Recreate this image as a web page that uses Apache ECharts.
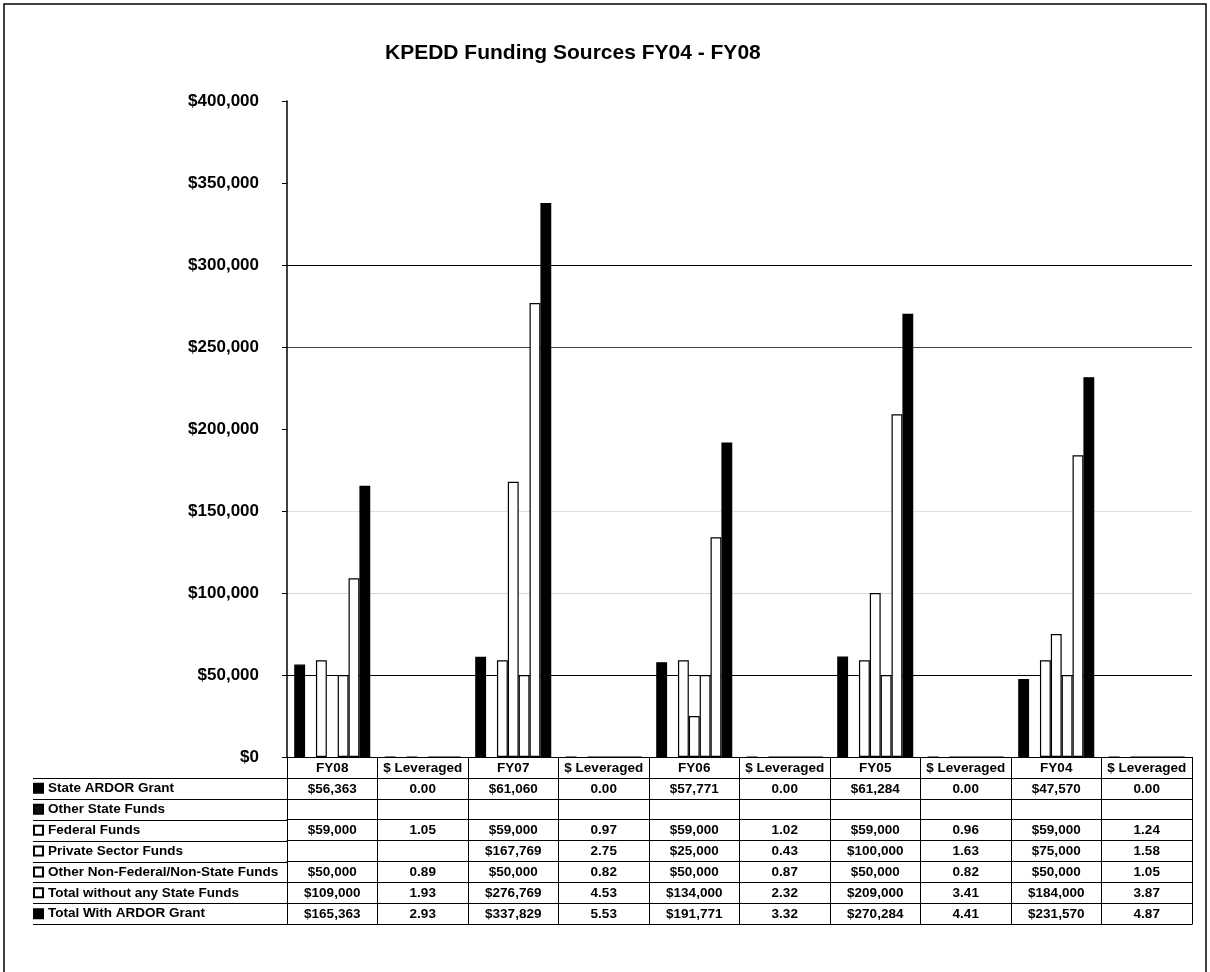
<!DOCTYPE html>
<html>
<head>
<meta charset="utf-8">
<script src="https://cdn.jsdelivr.net/npm/echarts@6/dist/echarts.min.js"></script>
<style>
  html, body { margin: 0; padding: 0; background: #fff; }
  #chart { width: 1210px; height: 972px; }
</style>
</head>
<body>
<div id="chart"></div>
<script>
// ---------------- DATA ----------------
const fiscalYears = ['FY08', 'FY07', 'FY06', 'FY05', 'FY04'];
const leveragedLabel = '$ Leveraged';

const seriesNames = [
  'State ARDOR Grant',
  'Other State Funds',
  'Federal Funds',
  'Private Sector Funds',
  'Other Non-Federal/Non-State Funds',
  'Total without any State Funds',
  'Total With ARDOR Grant'
];

// dollar amounts per fiscal year (FY08 .. FY04)
const stateArdor      = [56363, 61060, 57771, 61284, 47570];
const otherState      = [null, null, null, null, null];
const federal         = [59000, 59000, 59000, 59000, 59000];
const privateSector   = [null, 167769, 25000, 100000, 75000];
const otherNonFederal = [50000, 50000, 50000, 50000, 50000];
const totalNoState    = [109000, 276769, 134000, 209000, 184000];
const totalWithArdor  = [165363, 337829, 191771, 270284, 231570];

// $ leveraged per fiscal year (FY08 .. FY04)
const stateArdorLev      = [0.00, 0.00, 0.00, 0.00, 0.00];
const otherStateLev      = [null, null, null, null, null];
const federalLev         = [1.05, 0.97, 1.02, 0.96, 1.24];
const privateSectorLev   = [null, 2.75, 0.43, 1.63, 1.58];
const otherNonFederalLev = [0.89, 0.82, 0.87, 0.82, 1.05];
const totalNoStateLev    = [1.93, 4.53, 2.32, 3.41, 3.87];
const totalWithArdorLev  = [2.93, 5.53, 3.32, 4.41, 4.87];

// value axis ticks
const yMin = 0, yMax = 400000, yStep = 50000;

// ---------------- BUILD ----------------
const categories = [];
fiscalYears.forEach(fy => { categories.push(fy, leveragedLabel); });

function interleave(d, l) {
  const out = [];
  d.forEach((v, i) => { out.push(v, l[i]); });
  return out;
}
const dollarSets = [stateArdor, otherState, federal, privateSector, otherNonFederal, totalNoState, totalWithArdor];
const levSets = [stateArdorLev, otherStateLev, federalLev, privateSectorLev, otherNonFederalLev, totalNoStateLev, totalWithArdorLev];
const fills = ['#000000', '#111111', '#ffffff', '#ffffff', '#ffffff', '#ffffff', '#000000'];
const seriesData = dollarSets.map((d, i) => interleave(d, levSets[i]));

function cellText(row, idx) {
  const v = seriesData[row][idx];
  if (v === null || v === undefined) return '';
  if (idx % 2 === 0) return '$' + v.toLocaleString('en-US');
  return v.toFixed(2);
}

const FONT = 'Liberation Sans, Arial, sans-serif';
const AXIS_Y = 757;
const ROW_H = 20.9;
const TABLE_LEFT = 33;
const PLOT_LEFT = 287;
const PLOT_RIGHT = 1192;

const xAxes = [];
for (let k = 0; k <= 8; k++) {
  xAxes.push({
    type: 'category',
    data: categories,
    position: 'bottom',
    offset: k * ROW_H,
    boundaryGap: true,
    axisLine: { show: true, onZero: false, lineStyle: { color: '#000', width: 1 } },
    axisTick: k === 0
      ? { show: true, interval: 0, length: 8 * ROW_H, lineStyle: { color: '#000', width: 1 } }
      : { show: false },
    axisLabel: k === 8 ? { show: false } : {
      show: true, interval: 0, margin: 4,
      fontSize: 13.5, fontWeight: 'bold', fontFamily: FONT, color: '#000',
      formatter: k === 0 ? (v) => v : (v, idx) => cellText(k - 1, idx)
    },
    splitLine: { show: false }
  });
}

const series = seriesNames.map((name, i) => ({
  name: name,
  type: 'bar',
  xAxisIndex: 0,
  data: seriesData[i],
  barGap: '0%',
  barCategoryGap: '16%',
  itemStyle: { color: fills[i], borderColor: '#000', borderWidth: 1.2 },
  emphasis: { disabled: true }
}));

const graphics = [
  { type: 'rect', shape: { x: 4, y: 4, width: 1202, height: 1000 },
    style: { fill: 'none', stroke: '#000', lineWidth: 1.5 }, silent: true, z: 100 }
];
for (let k = 1; k <= 8; k++) {
  const y = Math.round(AXIS_Y + k * ROW_H) + 0.5;
  graphics.push({ type: 'line', shape: { x1: TABLE_LEFT, y1: y, x2: PLOT_LEFT, y2: y },
    style: { stroke: '#000', lineWidth: 1 }, silent: true });
}

const chart = echarts.init(document.getElementById('chart'), null, { renderer: 'canvas' });
chart.setOption({
  animation: false,
  backgroundColor: '#fff',
  title: {
    text: 'KPEDD Funding Sources FY04 - FY08',
    left: 380, top: 38,
    textStyle: { fontFamily: FONT, fontSize: 21, fontWeight: 'bold', color: '#000' }
  },
  grid: { left: PLOT_LEFT, right: 1210 - PLOT_RIGHT, top: 101, bottom: 972 - AXIS_Y, containLabel: false },
  legend: {
    data: seriesNames,
    orient: 'vertical',
    left: TABLE_LEFT, top: AXIS_Y + ROW_H + (ROW_H - 14) / 2,
    padding: 0,
    itemWidth: 9, itemHeight: 9,
    itemGap: ROW_H - 14,
    selectedMode: false,
    icon: 'rect',
    textStyle: { fontFamily: FONT, fontSize: 13.5, fontWeight: 'bold', color: '#000', lineHeight: 14 }
  },
  xAxis: xAxes,
  yAxis: {
    type: 'value',
    min: yMin, max: yMax, interval: yStep,
    axisLine: { show: true, lineStyle: { color: '#000', width: 1.5 } },
    axisTick: { show: true, length: 5, lineStyle: { color: '#000' } },
    axisLabel: {
      margin: 28, fontFamily: FONT, fontSize: 17, fontWeight: 'bold', color: '#000',
      formatter: (v) => '$' + v.toLocaleString('en-US')
    },
    splitLine: {
      show: true,
      lineStyle: {
        width: 1.2,
        color: ['#000', '#000', '#d8d8d8', '#e0e0e0', 'rgba(0,0,0,0)', '#444', '#000', 'rgba(0,0,0,0)', 'rgba(0,0,0,0)']
      }
    }
  },
  graphic: graphics,
  series: series
});
</script>
</body>
</html>
